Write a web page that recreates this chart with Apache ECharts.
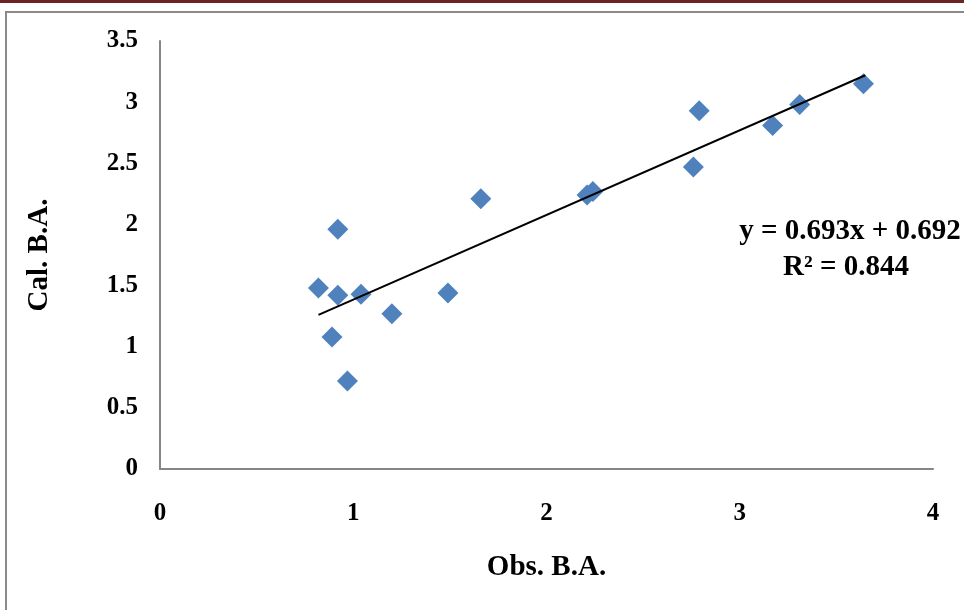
<!DOCTYPE html>
<html>
<head>
<meta charset="utf-8">
<title>Obs. vs Cal. B.A.</title>
<script src="https://cdn.jsdelivr.net/npm/echarts@6/dist/echarts.min.js"></script>
<style>
  html, body { margin: 0; padding: 0; background: #fff; }
  #chart { width: 964px; height: 610px; }
</style>
</head>
<body>
<div id="chart"></div>
<script>
const obsBA = [0.82, 0.92, 0.92, 0.89, 0.97, 1.04, 1.2, 1.49, 1.66, 2.21, 2.24, 2.76, 2.79, 3.17, 3.31, 3.64]
const calBA = [1.48, 1.96, 1.42, 1.08, 0.72, 1.43, 1.27, 1.44, 2.21, 2.24, 2.27, 2.47, 2.93, 2.81, 2.98, 3.15]

// trend line ends (as drawn)
const trendX = [0.82, 3.65]
const trendY = [1.26, 3.22]

const eqText = 'y = 0.693x + 0.692'
const r2Text = 'R² = 0.844'

const font = '"Liberation Serif", "DejaVu Serif", serif'
const axisGray = '#868686'

const chart = echarts.init(document.getElementById('chart'), null, { renderer: 'canvas' })

chart.setOption({
  backgroundColor: '#fff',
  animation: false,
  grid: { left: 160, top: 41, right: 31, bottom: 141 },
  xAxis: {
    type: 'value',
    min: 0, max: 4, interval: 1,
    name: 'Obs. B.A.',
    nameLocation: 'middle',
    nameGap: 84,
    nameTextStyle: { fontFamily: font, fontWeight: 'bold', fontSize: 29, color: '#000' },
    axisLine: { show: true, onZero: false, lineStyle: { color: axisGray, width: 2 } },
    axisTick: { show: false },
    splitLine: { show: false },
    axisLabel: { margin: 32, fontFamily: font, fontWeight: 'bold', fontSize: 25, color: '#000' }
  },
  yAxis: {
    type: 'value',
    min: 0, max: 3.5, interval: 0.5,
    name: 'Cal. B.A.',
    nameLocation: 'middle',
    nameGap: 106,
    nameRotate: 90,
    nameTextStyle: { fontFamily: font, fontWeight: 'bold', fontSize: 29, color: '#000' },
    axisLine: { show: true, onZero: false, lineStyle: { color: axisGray, width: 2 } },
    axisTick: { show: false },
    splitLine: { show: false },
    axisLabel: { margin: 22, fontFamily: font, fontWeight: 'bold', fontSize: 25, color: '#000' }
  },
  series: [
    {
      type: 'scatter',
      data: obsBA.map((x, i) => [x, calBA[i]]),
      symbol: 'diamond',
      symbolSize: 21,
      itemStyle: { color: '#4F81BD', opacity: 1 },
      z: 2
    },
    {
      type: 'line',
      data: trendX.map((x, i) => [x, trendY[i]]),
      showSymbol: false,
      lineStyle: { color: '#000', width: 2 },
      z: 3
    }
  ],
  graphic: [
    { type: 'rect', shape: { x: 0, y: 0, width: 964, height: 3 }, style: { fill: '#6B2426' } },
    { type: 'rect', shape: { x: 6, y: 11, width: 958, height: 2 }, style: { fill: '#8A8A8A' } },
    { type: 'rect', shape: { x: 5, y: 11, width: 2, height: 599 }, style: { fill: '#8A8A8A' } },
    {
      type: 'text', x: 850, y: 232,
      style: { text: eqText, font: 'bold 29px ' + font, fill: '#000', align: 'center', verticalAlign: 'middle' }
    },
    {
      type: 'text', x: 846, y: 268,
      style: { text: r2Text, font: 'bold 29px ' + font, fill: '#000', align: 'center', verticalAlign: 'middle' }
    }
  ]
})
</script>
</body>
</html>
